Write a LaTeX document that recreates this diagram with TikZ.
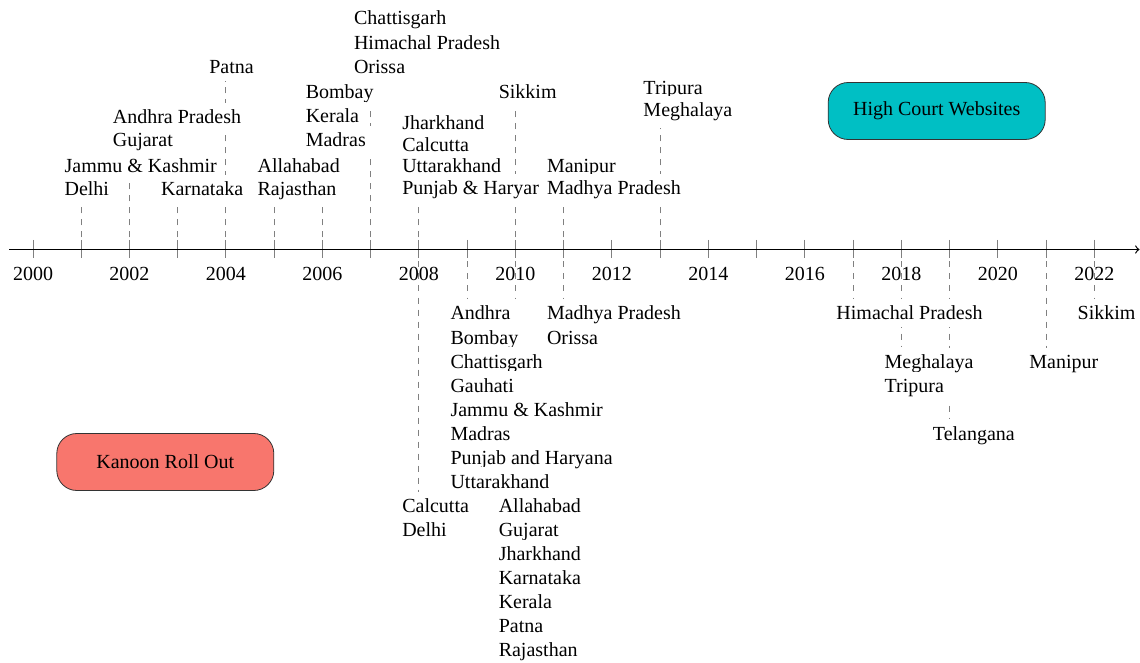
\documentclass[tikz,border=0pt]{standalone}
\usepackage{fontspec}
\setmainfont{Liberation Serif}
\usetikzlibrary{backgrounds}
\definecolor{kanoon}{HTML}{F8766D}
\definecolor{hcwcol}{HTML}{00BFC4}
\newcommand\ev[4]{\node[lbl] (#1) at ({9.3+(#2-2000)*48.24},#3) {#4};}
\begin{document}
\begin{tikzpicture}[x=0.5pt,y=-0.5pt,
  lbl/.style={anchor=base west, fill=white, font=\fontsize{10}{12}\selectfont, inner sep=3.33pt},
  yearlbl/.style={anchor=base, font=\fontsize{10}{12}\selectfont, inner sep=0pt},
  tickline/.style={gray, line width=0.5pt},
  evline/.style={gray, dashed, line width=0.5pt},
  axisline/.style={black, line width=0.6pt, ->},
  phase/.style={draw=black!80, line width=0.4pt, rounded corners=10pt, minimum width=108.5pt, minimum height=28.5pt, inner sep=0pt, font=\fontsize{10}{12}\selectfont}]
\useasboundingbox (0,0) rectangle (1140,663);
\foreach \y in {2000,...,2022} \coordinate (t\y) at ({33+(\y-2000)*48.24},249.5);
\coordinate (axs) at (9,249.5);
\coordinate (axe) at (1139.5,249.5);

% year labels
\foreach \y in {2000,2002,...,2022} \node[yearlbl] (y\y) at ({33+(\y-2000)*48.24},280) {\y};

% events above the axis
\ev{u2001a}{2001}{172.7}{Jammu \& Kashmir}
\ev{u2001b}{2001}{195.7}{Delhi}
\ev{u2002a}{2002}{123.3}{Andhra Pradesh}
\ev{u2002b}{2002}{146.7}{Gujarat}
\ev{u2003a}{2003}{195.7}{Karnataka}
\ev{u2004a}{2004}{74}{Patna}
\ev{u2005a}{2005}{172.7}{Allahabad}
\ev{u2005b}{2005}{195.7}{Rajasthan}
\ev{u2006a}{2006}{98.3}{Bombay}
\ev{u2006b}{2006}{122.5}{Kerala}
\ev{u2006c}{2006}{146.7}{Madras}
\ev{u2007a}{2007}{25}{Chattisgarh}
\ev{u2007b}{2007}{49.3}{Himachal Pradesh}
\ev{u2007c}{2007}{73.5}{Orissa}
\ev{u2008a}{2008}{129.3}{Jharkhand}
\ev{u2008b}{2008}{151.7}{Calcutta}
\ev{u2008c}{2008}{172.7}{Uttarakhand}
\ev{u2008d}{2008}{194.5}{Punjab \& Haryar}
\ev{u2010a}{2010}{98.3}{Sikkim}
\ev{u2011a}{2011}{172.7}{Manipur}
\ev{u2011b}{2011}{195}{Madhya Pradesh}
\ev{u2013a}{2013}{95}{Tripura}
\ev{u2013b}{2013}{116.7}{Meghalaya}

% events below the axis
\ev{d2008a}{2008}{512.7}{Calcutta}
\ev{d2008b}{2008}{536.7}{Delhi}
\ev{d2009a}{2009}{320}{Andhra}
\ev{d2009b}{2009}{344}{Bombay}
\ev{d2009c}{2009}{368}{Chattisgarh}
\ev{d2009d}{2009}{392}{Gauhati}
\ev{d2009e}{2009}{416}{Jammu \& Kashmir}
\ev{d2009f}{2009}{440}{Madras}
\ev{d2009g}{2009}{464}{Punjab and Haryana}
\ev{d2009h}{2009}{488}{Uttarakhand}
\ev{d2010a}{2010}{512.7}{Allahabad}
\ev{d2010b}{2010}{536.7}{Gujarat}
\ev{d2010c}{2010}{560.7}{Jharkhand}
\ev{d2010d}{2010}{584.7}{Karnataka}
\ev{d2010e}{2010}{608.7}{Kerala}
\ev{d2010f}{2010}{632.7}{Patna}
\ev{d2010g}{2010}{656.7}{Rajasthan}
\ev{d2011a}{2011}{320}{Madhya Pradesh}
\ev{d2011b}{2011}{344.3}{Orissa}
\ev{d2017a}{2017}{320}{Himachal Pradesh}
\ev{d2018a}{2018}{368.3}{Meghalaya}
\ev{d2018b}{2018}{392}{Tripura}
\ev{d2019a}{2019}{440}{Telangana}
\ev{d2021a}{2021}{368.3}{Manipur}
\ev{d2022a}{2022}{320}{Sikkim}

% phase boxes
\node[phase, fill=kanoon] (kro) at (165.3,462) {Kanoon Roll Out};
\node[phase, fill=hcwcol] (hcw) at (936.7,111) {High Court Websites};

\begin{scope}[on background layer]
  \foreach \y in {2000,...,2022} \draw[tickline] (t\y) ++(0,-9.5) -- ++(0,18);
  \foreach \y/\n in {2001/u2001b,2002/u2002b,2003/u2003a,2004/u2004a,2005/u2005b,2006/u2006c,2007/u2007c,2008/u2008d,2010/u2010a,2011/u2011b,2013/u2013b}
    \draw[evline] (t\y) -- (t\y |- \n.south);
  \foreach \y/\n in {2008/d2008a,2009/d2009a,2010/d2010a,2011/d2011a,2017/d2017a,2018/d2018a,2019/d2019a,2021/d2021a,2022/d2022a}
    \draw[evline] (t\y) -- (t\y |- \n.north);
  \draw[axisline] (axs) -- (axe);
\end{scope}
\end{tikzpicture}
\end{document}
